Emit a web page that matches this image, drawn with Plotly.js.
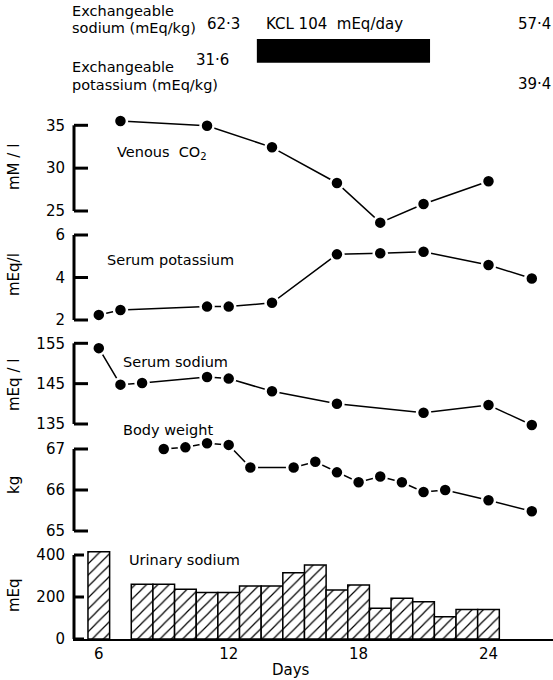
<!DOCTYPE html>
<html>
<head>
<meta charset="utf-8">
<script src="https://cdn.plot.ly/plotly-3.0.1.min.js"></script>
<style>html,body{margin:0;padding:0;background:#fff;}#chart{width:553px;height:680px;}</style>
</head>
<body>
<div id="chart"></div>
<script>
// ---------------- DATA ----------------
const co2Days = [7, 11, 14, 17, 19, 21, 24];
const co2Vals = [35.5, 34.95, 32.43, 28.27, 23.64, 25.82, 28.47];

const kDays = [6, 7, 11, 12, 14, 17, 19, 21, 24, 26];
const kVals = [2.24, 2.47, 2.63, 2.63, 2.81, 5.09, 5.14, 5.21, 4.59, 3.95];

const naDays = [6, 7, 8, 11, 12, 14, 17, 21, 24, 26];
const naVals = [153.8, 144.75, 145.15, 146.65, 146.25, 143.1, 140.0, 137.8, 139.7, 134.75];

const wtDays = [9, 10, 11, 12, 13, 15, 16, 17, 18, 19, 20, 21, 22, 24, 26];
const wtVals = [67.0, 67.04, 67.14, 67.1, 66.55, 66.55, 66.69, 66.43, 66.19, 66.33, 66.19, 65.95, 66.0, 65.75, 65.48];

const urDays = [6, 8, 9, 10, 11, 12, 13, 14, 15, 16, 17, 18, 19, 20, 21, 22, 23, 24];
const urVals = [415, 261, 261, 237, 221, 221, 252, 252, 316, 352, 233, 257, 146, 194, 177, 106, 141, 141];

const xTicks = [6, 12, 18, 24];
const co2Ticks = [25, 30, 35];
const kTicks = [2, 4, 6];
const naTicks = [135, 145, 155];
const wtTicks = [65, 66, 67];
const urTicks = [0, 200, 400];

const exchSodium = [62.3, 57.4];      // before, after
const exchPotassium = [31.6, 39.4];   // before, after
const kclDose = 104;
const kclPeriod = [13.3, 21.3];       // days

// ---------------- LAYOUT HELPERS ----------------
const W = 553, H = 680;
const FONT = "DejaVu Sans";
const DAY6_PX = 98.8, PX_PER_DAY = 21.65, PLOT_LEFT = 73, PLOT_RIGHT = 553;
const xRange = [6 - (DAY6_PX - PLOT_LEFT) / PX_PER_DAY, 6 + (PLOT_RIGHT - DAY6_PX) / PX_PER_DAY];
const BRACKET_X = 74;

// panel: domain in px (top,bottom), and two reference ticks (value -> px)
const panels = [
  {id: 'y',  top: 108, bot: 231, v1: 35,  p1: 125.3, v2: 25,  p2: 211,  ticks: co2Ticks, tl: 14, title: 'mM / l',  tY: 167},
  {id: 'y2', top: 229, bot: 332, v1: 6,   p1: 235,   v2: 2,   p2: 320,  ticks: kTicks,   tl: 14, title: 'mEq/l',   tY: 275},
  {id: 'y3', top: 334, bot: 436, v1: 155, p1: 343.3, v2: 135, p2: 424,  ticks: naTicks,  tl: 14, title: 'mEq / l', tY: 385},
  {id: 'y4', top: 436, bot: 538, v1: 67,  p1: 449,   v2: 65,  p2: 531,  ticks: wtTicks,  tl: 14, title: 'kg',      tY: 485},
  {id: 'y5', top: 545, bot: 639, v1: 400, p1: 555,   v2: 0,   p2: 639,  ticks: urTicks,  tl: 10, title: 'mEq',     tY: 595}
];
function valAt(p, px) { return p.v1 + (px - p.p1) * (p.v2 - p.v1) / (p.p2 - p.p1); }
function pxAt(p, v) { return p.p1 + (v - p.v1) * (p.p2 - p.p1) / (p.v2 - p.v1); }

const layout = {
  width: W, height: H,
  margin: {l: 0, r: 0, t: 0, b: 0},
  paper_bgcolor: '#fff', plot_bgcolor: 'rgba(0,0,0,0)',
  showlegend: false,
  font: {family: FONT, size: 15, color: '#000'},
  xaxis: {
    domain: [PLOT_LEFT / W, 1], range: xRange, anchor: 'y5',
    tickvals: xTicks, ticks: '', showgrid: false, zeroline: false,
    showline: true, linecolor: '#000', linewidth: 1.5,
    tickfont: {family: FONT, size: 15, color: '#000'}
  },
  shapes: [],
  annotations: []
};

panels.forEach((p, i) => {
  const key = i === 0 ? 'yaxis' : 'yaxis' + (i + 1);
  layout[key] = {
    anchor: 'x',
    domain: [1 - p.bot / H, 1 - p.top / H],
    range: [valAt(p, p.bot), valAt(p, p.top)],
    tickvals: p.ticks, ticks: '',
    showgrid: false, zeroline: false, showline: false,
    ticklabelstandoff: 7,
    tickfont: {family: FONT, size: 15, color: '#000'}
  };
  // bracket-style axis: vertical line over the tick range plus inward ticks
  const tmin = Math.min(...p.ticks), tmax = Math.max(...p.ticks);
  layout.shapes.push({
    type: 'line', xref: 'paper', yref: 'paper', layer: 'above',
    x0: BRACKET_X / W, x1: BRACKET_X / W,
    y0: 1 - pxAt(p, tmin) / H, y1: 1 - pxAt(p, tmax) / H,
    line: {color: '#000', width: 3}
  });
  p.ticks.forEach(t => {
    const yy = 1 - pxAt(p, t) / H;
    layout.shapes.push({
      type: 'line', xref: 'paper', yref: 'paper', layer: 'above',
      x0: BRACKET_X / W, x1: (BRACKET_X + p.tl) / W, y0: yy, y1: yy,
      line: {color: '#000', width: 3}
    });
  });
  layout.annotations.push({
    xref: 'paper', yref: 'paper', x: 14 / W, y: 1 - p.tY / H,
    text: p.title, textangle: -90, showarrow: false,
    xanchor: 'center', yanchor: 'middle',
    font: {family: FONT, size: 15, color: '#000'}
  });
});

// KCl bar
layout.shapes.push({
  type: 'rect', xref: 'x', yref: 'paper',
  x0: kclPeriod[0], x1: kclPeriod[1],
  y0: 1 - 62.7 / H, y1: 1 - 39 / H,
  fillcolor: '#000', line: {width: 0}
});

function fmt(v) { return v.toFixed(1).replace('.', '·'); }
function ann(text, xpx, ypx, xanchor, size) {
  layout.annotations.push({
    xref: 'paper', yref: 'paper', x: xpx / W, y: 1 - ypx / H,
    text: text, showarrow: false, xanchor: xanchor || 'left', yanchor: 'middle',
    font: {family: FONT, size: size || 15, color: '#000'}
  });
}
// header
ann('Exchangeable', 70, 11, 'left', 14.5);
ann('sodium (mEq/kg)', 70, 28, 'left', 14.5);
ann(fmt(exchSodium[0]), 205, 24);
ann('KCL ' + kclDose + '  mEq/day', 264, 24);
ann(fmt(exchSodium[1]), 553, 24, 'right');
ann('Exchangeable', 70, 67, 'left', 14.5);
ann(fmt(exchPotassium[0]), 194, 60);
ann('potassium (mEq/kg)', 70, 85, 'left', 14.5);
ann(fmt(exchPotassium[1]), 553, 84, 'right');

// panel labels
ann('Venous  CO<sub>2</sub>', 115, 153, 'left', 14.5);
ann('Serum potassium', 105, 260, 'left', 14.5);
ann('Serum sodium', 121, 362, 'left', 14.5);
ann('Body weight', 121, 430, 'left', 14.5);
ann('Urinary sodium', 127, 560, 'left', 14.5);
// x title
ann('Days', 291, 670, 'center', 15);

// ---------------- TRACES ----------------
function lineTrace(xs, ys, yaxis) {
  return {
    type: 'scatter', mode: 'lines+markers', x: xs, y: ys, xaxis: 'x', yaxis: yaxis,
    line: {color: '#000', width: 1.5},
    marker: {color: '#000', size: 13, line: {color: '#fff', width: 2.5}},
    cliponaxis: false, hoverinfo: 'skip'
  };
}
const data = [
  lineTrace(co2Days, co2Vals, 'y'),
  lineTrace(kDays, kVals, 'y2'),
  lineTrace(naDays, naVals, 'y3'),
  lineTrace(wtDays, wtVals, 'y4'),
  {
    type: 'bar', x: urDays, y: urVals, xaxis: 'x', yaxis: 'y5', width: 1,
    marker: {
      color: '#fff',
      line: {color: '#000', width: 1.5},
      pattern: {shape: '/', fgcolor: '#000', bgcolor: '#fff', size: 8, solidity: 0.15}
    },
    hoverinfo: 'skip'
  }
];

Plotly.newPlot('chart', data, layout, {staticPlot: true});
</script>
</body>
</html>
